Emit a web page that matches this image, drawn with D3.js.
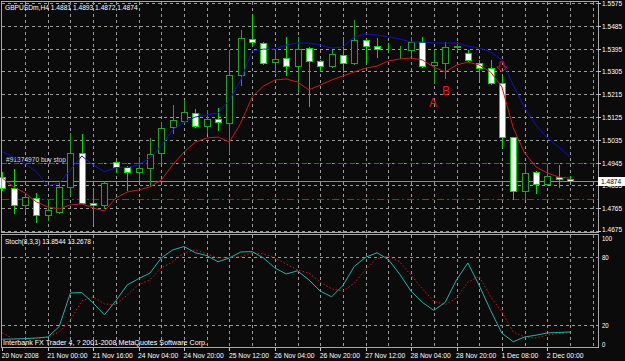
<!DOCTYPE html>
<html>
<head>
<meta charset="utf-8">
<script src="https://cdn.jsdelivr.net/npm/d3@7"></script>
<style>
body { margin: 0; background: #0b0b0b; }
svg { display: block; }
text { font-family: "Liberation Sans", Arial, sans-serif; font-size: 7.5px; fill: #fff; }
</style>
</head>
<body>
<div id="chart"></div>
<script>
// H4 bars, GBPUSDm, 51 bars from 20 Nov 2008
var opens  = [1.4888,1.4845,1.4778,1.4805,1.4738,1.4750,1.4849,1.4983,1.4786,1.4776,
              1.4947,1.4928,1.4908,1.4924,1.4983,1.5086,1.5109,1.5141,1.5090,1.5117,
              1.5101,1.5291,1.5433,1.5417,1.5342,1.5358,1.5326,1.5397,1.5346,1.5326,
              1.5370,1.5338,1.5429,1.5405,1.5393,1.5389,1.5389,1.5421,1.5330,1.5338,
              1.5403,1.5378,1.5338,1.5318,1.5259,1.5046,1.4833,1.4908,1.4860,1.4888,1.4881];
var highs  = [1.4908,1.4920,1.4817,1.4825,1.4797,1.4872,1.5062,1.5058,1.4841,1.4872,
              1.4951,1.4932,1.4967,1.5042,1.5105,1.5172,1.5192,1.5157,1.5153,1.5161,
              1.5389,1.5468,1.5532,1.5421,1.5393,1.5441,1.5441,1.5401,1.5350,1.5389,
              1.5441,1.5508,1.5433,1.5437,1.5417,1.5405,1.5441,1.5441,1.5389,1.5421,
              1.5421,1.5389,1.5350,1.5350,1.5287,1.5048,1.4943,1.4912,1.4939,1.4936,1.4893];
var lows   = [1.4837,1.4746,1.4754,1.4710,1.4718,1.4746,1.4817,1.4784,1.4703,1.4766,
              1.4908,1.4837,1.4876,1.4857,1.4943,1.5062,1.5101,1.5086,1.5062,1.5074,
              1.4983,1.5251,1.5409,1.5336,1.5303,1.5291,1.5224,1.5168,1.5307,1.5322,
              1.5303,1.5336,1.5342,1.5362,1.5389,1.5358,1.5370,1.5324,1.5259,1.5279,
              1.5389,1.5348,1.5275,1.5257,1.5007,1.4801,1.4801,1.4825,1.4858,1.4849,1.4872];
var closes = [1.4845,1.4778,1.4809,1.4738,1.4758,1.4849,1.4983,1.4786,1.4776,1.4864,
              1.4928,1.4908,1.4924,1.4979,1.5082,1.5113,1.5145,1.5090,1.5117,1.5105,
              1.5291,1.5437,1.5421,1.5338,1.5354,1.5326,1.5393,1.5346,1.5326,1.5374,
              1.5338,1.5429,1.5405,1.5393,1.5392,1.5390,1.5421,1.5326,1.5342,1.5401,
              1.5405,1.5350,1.5318,1.5259,1.5046,1.4833,1.4904,1.4860,1.4892,1.4881,1.4874];

// moving averages drawn on the price window
var maFast = [1.4988,1.4966,1.4942,1.4909,1.4854,1.4863,1.4916,1.4971,1.4936,1.4909,
              1.4925,1.4925,1.4936,1.4963,1.5011,1.5074,1.5105,1.5125,1.5133,1.5141,
              1.5192,1.5271,1.5386,1.5393,1.5393,1.5409,1.5417,1.5417,1.5409,1.5397,
              1.5401,1.5441,1.5453,1.5449,1.5441,1.5433,1.5421,1.5421,1.5417,1.5417,
              1.5417,1.5405,1.5397,1.5382,1.5350,1.5251,1.5161,1.5093,1.5042,1.5007,1.4967];
var maSlow = [1.4884,1.4849,1.4825,1.4790,1.4770,1.4762,1.4778,1.4782,1.4766,1.4754,
              1.4805,1.4829,1.4837,1.4849,1.4876,1.4936,1.4987,1.5026,1.5042,1.5046,
              1.5026,1.5101,1.5204,1.5247,1.5271,1.5275,1.5263,1.5232,1.5251,1.5271,
              1.5287,1.5303,1.5318,1.5326,1.5346,1.5354,1.5358,1.5350,1.5322,1.5303,
              1.5330,1.5342,1.5330,1.5303,1.5243,1.5082,1.4983,1.4928,1.4904,1.4888,1.4884];

// Stochastic(8,3,3)
var stochMain   = [7.4,7.6,8,8.5,9.4,18.5,48.4,48.7,39.5,29,
                   41.5,55.5,61,66,79.4,86.5,89.5,84,81.5,76,
                   79.4,84.7,85,79.4,70.6,65.2,68,60,50,45,
                   55,72,80,84,78,65,50,40,33,40,
                   60,75,55,33,12.7,5.2,9.4,11,13,13.4,13.85];
var stochSignal = [13,7.6,7.6,8,9,14,24.5,41.3,45,38.7,
                   38,46.6,55.5,60,70.6,76,84,86.5,83,79.4,
                   79.7,80.6,84,83,79.4,74,68.8,66,58,52,
                   50,57,69,79,81,76,64,52,41,38,
                   44,58,63,45,31.5,13.8,9.4,8.5,11.2,12.5,13.27];

var timeLabels = ["20 Nov 2008","21 Nov 00:00","21 Nov 16:00","24 Nov 04:00","24 Nov 20:00",
                  "25 Nov 12:00","26 Nov 04:00","26 Nov 20:00","27 Nov 12:00","28 Nov 04:00",
                  "28 Nov 20:00","1 Dec 08:00","2 Dec 00:00"];
var priceTicks = [1.5575,1.5485,1.5395,1.5305,1.5215,1.5125,1.5035,1.4945,1.4855,1.4765,1.4675];
var stochTicks = [100,80,20,0];
var bidPrice = 1.4874, buyStopPrice = 1.4943, stopLossPrice = 1.4800;

var width = 625, height = 361;
var svg = d3.select("#chart").append("svg")
	.attr("width", width)
	.attr("height", height);

svg.append("rect").attr("width", width).attr("height", height).attr("fill", "#0b0b0b");

var x = d3.scaleLinear().domain([0, 52]).range([2.3, 2.3 + 52 * 11.355]);
var y = d3.scaleLinear().domain([1.4675, 1.5575]).range([231, 3]);
var ys = d3.scaleLinear().domain([0, 100]).range([347.6, 234.7]);

function px(v){ return Math.round(v) + 0.5; }
// squeeze text to the narrow terminal font width
function fit(sel, perChar){
	sel.attr("textLength", function(){ return this.textContent.length * perChar; })
		.attr("lengthAdjust", "spacingAndGlyphs");
}

var gridColor = "#9a9a9a";
var evenBars = d3.range(2, 53, 2);

// ---- grid: price window
svg.selectAll(".hgrid").data(priceTicks).enter().append("line")
	.attr("x1", 2).attr("x2", 598)
	.attr("y1", function(d){ return px(y(d)); })
	.attr("y2", function(d){ return px(y(d)); })
	.attr("stroke", gridColor).attr("stroke-dasharray", "3,3");
svg.selectAll(".vgrid").data(evenBars).enter().append("line")
	.attr("x1", function(d){ return px(x(d)); })
	.attr("x2", function(d){ return px(x(d)); })
	.attr("y1", 2).attr("y2", 232)
	.attr("stroke", gridColor).attr("stroke-dasharray", "3,3");

// ---- grid: stochastic window
svg.selectAll(".sgrid").data([80, 20]).enter().append("line")
	.attr("x1", 2).attr("x2", 598)
	.attr("y1", function(d){ return px(ys(d)); })
	.attr("y2", function(d){ return px(ys(d)); })
	.attr("stroke", gridColor).attr("stroke-dasharray", "3,3");
svg.selectAll(".svgrid").data(evenBars).enter().append("line")
	.attr("x1", function(d){ return px(x(d)); })
	.attr("x2", function(d){ return px(x(d)); })
	.attr("y1", 235).attr("y2", 347)
	.attr("stroke", gridColor).attr("stroke-dasharray", "3,3");

// ---- order lines and bid line
svg.append("line").attr("x1", 2).attr("x2", 598)
	.attr("y1", px(y(buyStopPrice))).attr("y2", px(y(buyStopPrice)))
	.attr("stroke", "#1c7a1c").attr("stroke-dasharray", "5,3,1,3");
svg.append("line").attr("x1", 2).attr("x2", 598)
	.attr("y1", px(y(stopLossPrice))).attr("y2", px(y(stopLossPrice)))
	.attr("stroke", "#c81414").attr("stroke-dasharray", "7,3,2,3");
svg.append("line").attr("x1", 2).attr("x2", 598)
	.attr("y1", px(y(bidPrice))).attr("y2", px(y(bidPrice)))
	.attr("stroke", "#8a8a8a");

var buyTxt = svg.append("text").attr("x", 6).attr("y", 162).style("fill", "#dcdcdc")
	.text("#91374970 buy stop");
fit(buyTxt, 3.33);

// ---- candles
var idx = d3.range(opens.length);
var candles = svg.selectAll(".candle").data(idx).enter().append("g");

function isBull(i){ return closes[i] > opens[i]; }
function candleColor(i){ return isBull(i) ? "#1fa51f" : "#00e000"; }

candles.append("line")
	.attr("x1", function(i){ return px(x(i)); })
	.attr("x2", function(i){ return px(x(i)); })
	.attr("y1", function(i){ return Math.round(y(highs[i])); })
	.attr("y2", function(i){ return Math.round(y(lows[i])) + 1; })
	.attr("stroke", candleColor);

candles.append("rect")
	.attr("x", function(i){ return Math.round(x(i)) - 3 + 0.5; })
	.attr("width", 6)
	.attr("y", function(i){ return Math.round(y(Math.max(opens[i], closes[i]))) + 0.5; })
	.attr("height", function(i){
		return Math.max(0, Math.round(y(Math.min(opens[i], closes[i]))) - Math.round(y(Math.max(opens[i], closes[i]))));
	})
	.attr("fill", function(i){ return isBull(i) ? "#0b0b0b" : "#ffffff"; })
	.attr("stroke", candleColor);

// ---- moving averages
var lineFast = d3.line().x(function(d, i){ return x(i); }).y(function(d){ return y(d); });
svg.append("path").datum(maFast).attr("d", lineFast)
	.attr("fill", "none").attr("stroke", "#1010c8").attr("stroke-width", 1);
svg.append("path").datum(maSlow).attr("d", lineFast)
	.attr("fill", "none").attr("stroke", "#d01818").attr("stroke-width", 1);

// ---- arrow and A / B marks
var ax = x(44), ay = y(highs[44]) - 4;
svg.append("path")
	.attr("d", "M" + (ax - 2) + "," + (ay - 10) + "h4v5h3l-5,5l-5,-5h3z")
	.attr("fill", "none").attr("stroke", "#e01010");
svg.append("text").attr("x", 429).attr("y", 107).style("font-size", "12px").style("fill", "#ee1111").text("A");
svg.append("text").attr("x", 442).attr("y", 95).style("font-size", "12px").style("fill", "#ee1111").text("B");

// ---- stochastic lines
var lineStoch = d3.line().x(function(d, i){ return x(i); }).y(function(d){ return ys(d); });
svg.append("path").datum(stochSignal).attr("d", lineStoch)
	.attr("fill", "none").attr("stroke", "#e01010").attr("stroke-dasharray", "1.5,2");
svg.append("path").datum(stochMain).attr("d", lineStoch)
	.attr("fill", "none").attr("stroke", "#20b2aa");

// ---- window frames
svg.append("rect").attr("x", 1.5).attr("y", 1.5).attr("width", 597).attr("height", 231)
	.attr("fill", "none").attr("stroke", "#a8a8a8");
svg.append("rect").attr("x", 1.5).attr("y", 234.5).attr("width", 597).attr("height", 113)
	.attr("fill", "none").attr("stroke", "#a8a8a8");

// ---- price axis
svg.selectAll(".ptick").data(priceTicks).enter().append("line")
	.attr("x1", 598).attr("x2", 601)
	.attr("y1", function(d){ return px(y(d)); })
	.attr("y2", function(d){ return px(y(d)); })
	.attr("stroke", "#c8c8c8");
var plab = svg.selectAll(".plabel").data(priceTicks).enter().append("text")
	.attr("x", 602)
	.attr("y", function(d){ return Math.min(y(d) + 3, 232); })
	.text(function(d){ return d3.format(".4f")(d); });
fit(plab, 3.35);

// bid price box
svg.append("rect").attr("x", 598).attr("y", Math.round(y(bidPrice)) - 4).attr("width", 27).attr("height", 9)
	.attr("fill", "#ffffff");
var bidTxt = svg.append("text").attr("x", 601).attr("y", Math.round(y(bidPrice)) + 3)
	.style("fill", "#000").text(d3.format(".4f")(bidPrice));
fit(bidTxt, 3.35);

// stochastic axis
var slab = svg.selectAll(".slabel").data(stochTicks).enter().append("text")
	.attr("x", 602)
	.attr("y", function(d){ return Math.max(241, Math.min(ys(d) + 3, 347)); })
	.text(function(d){ return d; });
fit(slab, 3.35);

// ---- time axis
svg.selectAll(".ttick").data(timeLabels).enter().append("line")
	.attr("x1", function(d, i){ return px(x(i * 4)); })
	.attr("x2", function(d, i){ return px(x(i * 4)); })
	.attr("y1", 348).attr("y2", 351)
	.attr("stroke", "#c8c8c8");
var tlab = svg.selectAll(".tlabel").data(timeLabels).enter().append("text")
	.attr("x", function(d, i){ return x(i * 4) - 0.5; })
	.attr("y", 357.5)
	.text(function(d){ return d; });
fit(tlab, 3.35);

// ---- titles
fit(svg.append("text").attr("x", 5).attr("y", 10).text("GBPUSDm,H4  1.4881 1.4893 1.4872 1.4874"), 3.4);
fit(svg.append("text").attr("x", 5).attr("y", 243.5).text("Stoch(8,3,3) 13.8544 13.2678"), 3.07);
fit(svg.append("text").attr("x", 3).attr("y", 345).text("Interbank FX Trader 4, ? 2001-2008 MetaQuotes Software Corp."), 3.4);
</script>
</body>
</html>
